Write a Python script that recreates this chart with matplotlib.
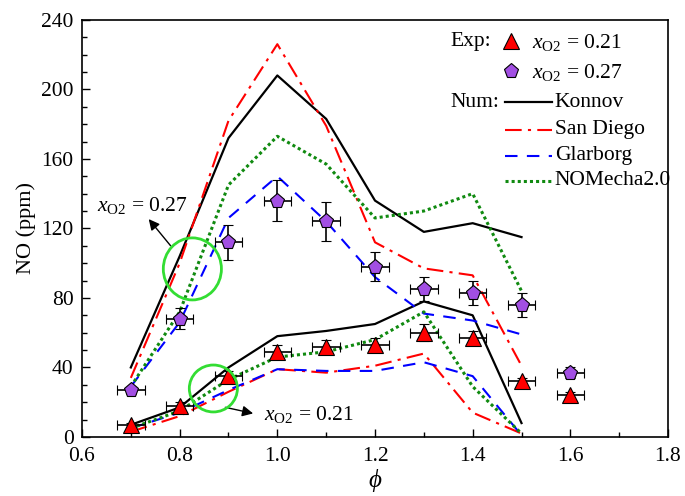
import matplotlib
matplotlib.use("Agg")
import matplotlib.pyplot as plt
from matplotlib.patches import Ellipse
from matplotlib.ticker import MultipleLocator, FormatStrFormatter

plt.rcParams['font.family'] = ['Liberation Serif', 'DejaVu Serif']
plt.rcParams['mathtext.fontset'] = 'custom'
plt.rcParams['mathtext.rm'] = 'Liberation Serif'
plt.rcParams['mathtext.it'] = 'Liberation Serif:italic'

# equivalence ratio
phi_num = [0.7, 0.8, 0.9, 1.0, 1.1, 1.2, 1.3, 1.4, 1.5]
phi_exp = [0.7, 0.8, 0.9, 1.0, 1.1, 1.2, 1.3, 1.4, 1.5, 1.6]

# experiments (ppm)
exp_21 = [7, 18, 35, 49, 52, 53, 60, 57, 32, 24]
err_21 = [1, 2, 3, 4, 4, 4, 5, 4, 2, 2]
exp_27 = [27, 68, 112, 136, 124, 98, 85, 83, 76, 37]
err_27 = [2, 6, 10, 12, 11, 8.5, 7, 7, 7, 3]
phi_err = 0.028

# simulations, x_O2 = 0.27
konnov_27 = [40, 104, 172, 208, 183, 136, 118, 123, 115]
sandiego_27 = [34, 100, 182, 226, 179, 112, 97, 93, 41]
glarborg_27 = [29, 66, 126, 150, 124, 92, 71, 67, 59]
nomecha_27 = [29, 72, 145, 173, 157, 126, 130, 140, 84]

# simulations, x_O2 = 0.21
konnov_21 = [7, 17, 40, 58, 61, 65, 78, 70, 8]
sandiego_21 = [3, 12, 26, 39, 37, 41, 48, 14, 2]
glarborg_21 = [5, 14, 27, 39, 38, 38, 43, 35, 1]
nomecha_21 = [5, 15, 33, 46, 49, 56, 72, 29, 2]

red = '#ff0000'
blue = '#0000ff'
green = '#108a10'
purple = '#a24fe3'
circ = '#33dd33'

fig = plt.figure(figsize=(6.85, 4.96), dpi=100)
ax = fig.add_axes([0.1197, 0.119, 0.8555, 0.841])

styles = [
    (konnov_27, konnov_21, dict(color='black', lw=1.6, ls='-')),
    (sandiego_27, sandiego_21, dict(color=red, lw=1.5, ls=(0, (8, 3, 1.5, 3)))),
    (glarborg_27, glarborg_21, dict(color=blue, lw=1.5, ls=(0, (6, 4.5)))),
    (nomecha_27, nomecha_21, dict(color=green, lw=2.2, ls=(0, (1, 1)))),
]
for y27, y21, st in styles:
    ax.plot(phi_num, y27, **st)
    ax.plot(phi_num, y21, **st)

ax.errorbar(phi_exp, exp_27, yerr=err_27, xerr=phi_err, fmt='p', ms=11,
            mfc=purple, mec='black', mew=0.8, ecolor='black', elinewidth=1.2,
            capsize=3.5, capthick=1.2, zorder=5)
ax.errorbar(phi_exp, exp_21, yerr=err_21, xerr=phi_err, fmt='^', ms=11,
            mfc=red, mec='black', mew=0.8, ecolor='black', elinewidth=1.2,
            capsize=3.5, capthick=1.2, zorder=5)

# green circles
ax.add_patch(Ellipse((0.826, 96.7), 0.119, 35.7, fill=False, ec=circ, lw=2, zorder=6))
ax.add_patch(Ellipse((0.869, 27.9), 0.0985, 27, fill=False, ec=circ, lw=2, zorder=6))

ax.annotate('', xy=(0.733, 126.6), xytext=(0.785, 108.8),
            arrowprops=dict(arrowstyle='-|>', color='black', lw=1.0,
                            mutation_scale=16))
ax.text(0.631, 133, r'$x_{\mathrm{O2}}$ = 0.27', fontsize=15.5, ha='left', va='center')
ax.annotate('', xy=(0.956, 13.2), xytext=(0.888, 17.4),
            arrowprops=dict(arrowstyle='-|>', color='black', lw=1.0,
                            mutation_scale=16))
ax.text(0.973, 12.7, r'$x_{\mathrm{O2}}$ = 0.21', fontsize=15.5, ha='left', va='center')

# legend drawn by hand
fs = 15.5
tr = ax.transAxes
ax.text(0.628, 0.947, 'Exp:', transform=tr, fontsize=fs, va='center')
ax.plot([0.732], [0.950], '^', ms=11, mfc=red, mec='black', mew=0.8, transform=tr, clip_on=False)
ax.text(0.768, 0.945, r'$x_{\mathrm{O2}}$ = 0.21', transform=tr, fontsize=fs, va='center')
ax.plot([0.732], [0.877], 'p', ms=11, mfc=purple, mec='black', mew=0.8, transform=tr, clip_on=False)
ax.text(0.768, 0.873, r'$x_{\mathrm{O2}}$ = 0.27', transform=tr, fontsize=fs, va='center')
ax.text(0.628, 0.803, 'Num:', transform=tr, fontsize=fs, va='center')
names = ['Konnov', 'San Diego', 'Glarborg', 'NOMecha2.0']
rows = [0.803, 0.736, 0.674, 0.614]
for (y27, y21, st), name, yy in zip(styles, names, rows):
    ax.plot([0.722, 0.802], [yy, yy], transform=tr, clip_on=False, **st)
    ax.text(0.807, yy, name, transform=tr, fontsize=fs, va='center')

ax.set_xlim(0.6, 1.8)
ax.set_ylim(0, 240)
ax.xaxis.set_major_locator(MultipleLocator(0.2))
ax.xaxis.set_minor_locator(MultipleLocator(0.1))
ax.yaxis.set_major_locator(MultipleLocator(40))
ax.yaxis.set_minor_locator(MultipleLocator(10))
ax.xaxis.set_major_formatter(FormatStrFormatter('%.1f'))
ax.tick_params(which='both', direction='in', top=False, right=False, labelsize=15.5)
ax.tick_params(which='major', length=6, width=1)
ax.tick_params(which='minor', length=3.5, width=1)
ax.tick_params(axis='x', which='major', pad=7)
ax.tick_params(axis='y', which='major', pad=6)
for s in ax.spines.values():
    s.set_linewidth(1.2)

ax.set_xlabel(r'$\phi$', fontsize=18, labelpad=1)
ax.set_ylabel('NO (ppm)', fontsize=16, labelpad=4)

fig.savefig('out.png', dpi=100)
